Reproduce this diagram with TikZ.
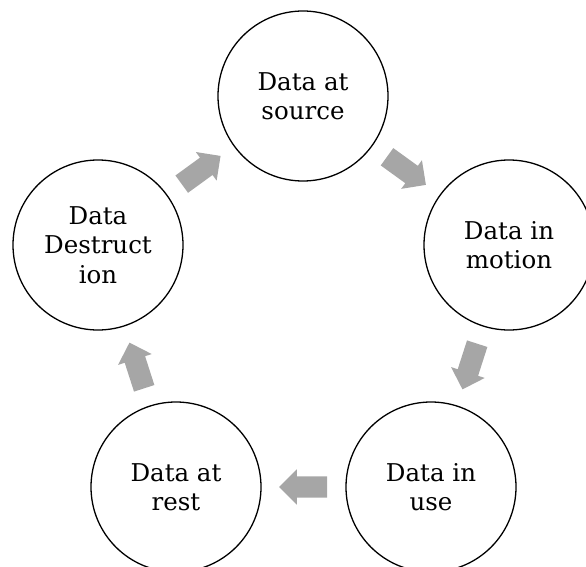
\documentclass[tikz,border=0pt]{standalone}
\usepackage{fontspec}
\setmainfont{DejaVu Serif}
\usetikzlibrary{shapes.arrows}
\begin{document}
\begin{tikzpicture}[x=1pt,y=-1pt,
  stage/.style={circle, draw=black, line width=1.3pt, minimum size=170pt, inner sep=0pt, align=center, font=\fontsize{24.5}{29.5}\selectfont},
  blockarrow/.style={single arrow, fill=black!35, draw=none, minimum height=48pt, inner xsep=0pt, inner ysep=10.5pt, text width=0pt, text height=0pt, text depth=0pt, single arrow head extend=7pt, sloped, allow upside down, anchor=tail, pos=0.215}]
\useasboundingbox (0,0) rectangle (586,567);
\node[stage] (src)  at (303,96)  {Data at\\source};
\node[stage] (mot)  at (509,245) {Data in\\motion};
\node[stage] (use)  at (431,487) {Data in\\use};
\node[stage] (rest) at (176,487) {Data at\\rest};
\node[stage] (dest) at (98,245)  {Data\\Destruct\\ion};
\path (dest) -- node[blockarrow] (a1) {} (src);
\path (src)  -- node[blockarrow] (a2) {} (mot);
\path (mot)  -- node[blockarrow] (a3) {} (use);
\path (use)  -- node[blockarrow] (a4) {} (rest);
\path (rest) -- node[blockarrow] (a5) {} (dest);
\end{tikzpicture}
\end{document}
